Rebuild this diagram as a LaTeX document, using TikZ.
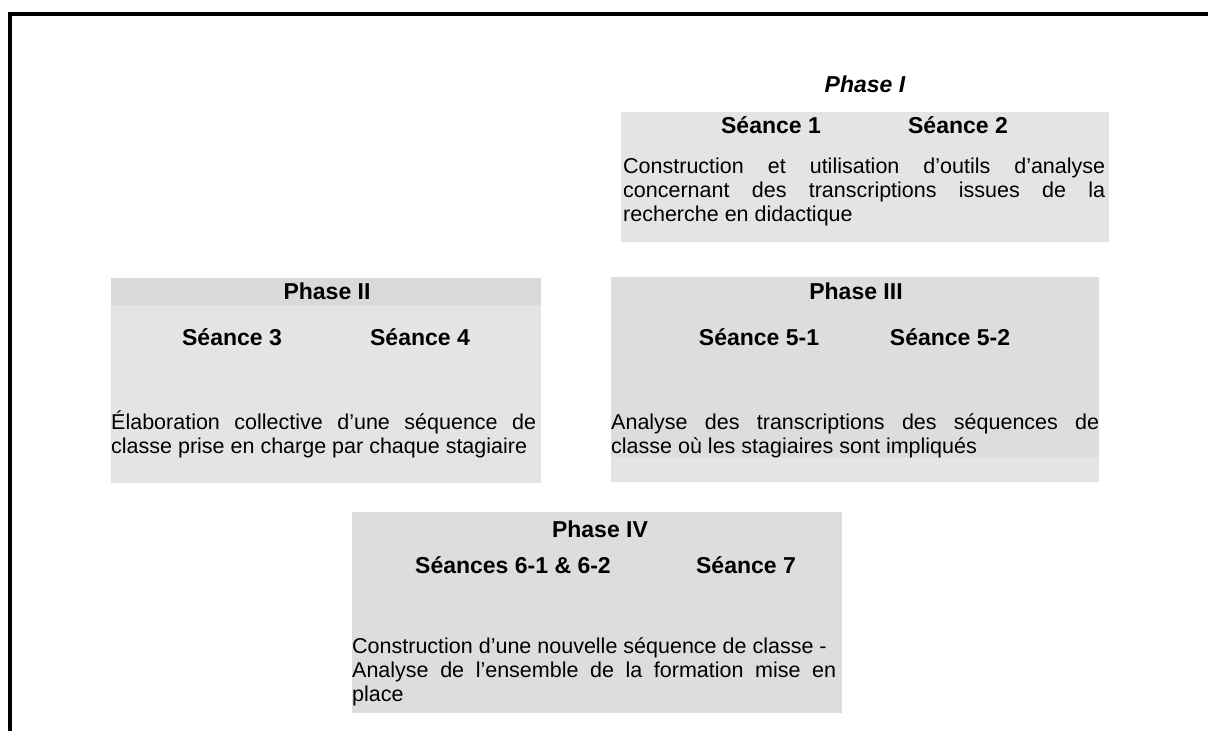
\documentclass[tikz,border=0pt]{standalone}
\usepackage{fontspec}
\setmainfont{Liberation Sans}
\definecolor{greylight}{HTML}{E4E4E4}
\definecolor{greydark}{HTML}{DDDDDD}
\definecolor{greyhead}{HTML}{D9D9D9}
\setlength{\parindent}{0pt}
\tolerance=10000 \hbadness=10000 \hyphenpenalty=10000

\tikzset{
  box/.style={rectangle, inner sep=0pt, anchor=north west},
  head/.style={inner sep=0pt, anchor=base, font=\fontsize{23}{26}\selectfont\bfseries},
  body/.style={inner sep=0pt, anchor=base west, align=justify, font=\fontsize{21.5}{24}\selectfont}
}

\begin{document}
\begin{tikzpicture}[x=1pt, y=-1pt]
\useasboundingbox (0,0) rectangle (1208,731);
\draw [line width=4pt] (10,731) -- (10,14) -- (1208,14);

% phase I
\node [head] (phase1) at (865,92) {\itshape Phase I};
\node [box, fill=greylight, minimum width=488pt, minimum height=130pt] (box1) at (621,112) {};
\node [head] (s1) at (771,133) {Séance 1};
\node [head] (s2) at (958,133) {Séance 2};
\node [body, text width=482pt] (txt1) at (623,173)
  {Construction et utilisation d’outils d’analyse\linebreak concernant des transcriptions issues de la\linebreak recherche en didactique};

% phase II
\node [box, fill=greylight, minimum width=430pt, minimum height=205pt] (box2) at (111,278) {};
\node [box, fill=greyhead, minimum width=430pt, minimum height=27pt] (head2) at (111,278) {};
\node [head] (phase2) at (327,299) {Phase II};
\node [head] (s3) at (232,345) {Séance 3};
\node [head] (s4) at (420,345) {Séance 4};
\node [body, text width=425pt] (txt2) at (111,429)
  {Élaboration collective d’une séquence de\linebreak classe prise en charge par chaque stagiaire};

% phase III
\node [box, fill=greydark, minimum width=488pt, minimum height=205pt] (box3) at (611,277) {};
\node [box, fill=greylight, minimum width=488pt, minimum height=25pt] (foot3) at (611,457) {};
\node [head] (phase3) at (856,299) {Phase III};
\node [head] (s51) at (759,345) {Séance 5-1};
\node [head] (s52) at (950,345) {Séance 5-2};
\node [body, text width=488pt] (txt3) at (611,429)
  {Analyse des transcriptions des séquences de\linebreak classe où les stagiaires sont impliqués};

% phase IV
\node [box, fill=greydark, minimum width=490pt, minimum height=201pt] (box4) at (352,512) {};
\node [head] (phase4) at (600,537) {Phase IV};
\node [head] (s6) at (513,573) {Séances 6-1 \& 6-2};
\node [head] (s7) at (746,573) {Séance 7};
\node [body, text width=484pt] (txt4) at (352,653)
  {Construction d’une nouvelle séquence de classe -\newline Analyse de l’ensemble de la formation mise en\linebreak place};
\end{tikzpicture}
\end{document}
